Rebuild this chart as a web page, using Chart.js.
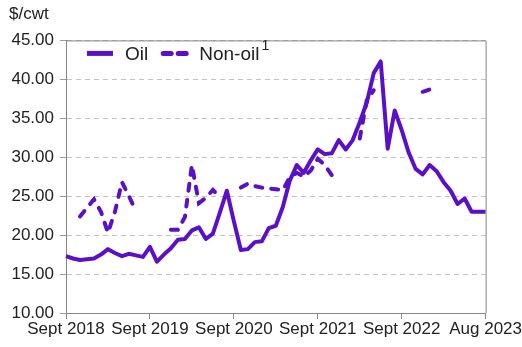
<!DOCTYPE html>
<html>
<head>
<meta charset="utf-8">
<script src="https://cdn.jsdelivr.net/npm/chart.js@4"></script>
<style>
  html, body { margin: 0; padding: 0; background: #fff; }
  #wrap { width: 522px; height: 347px; }
</style>
</head>
<body>
<div id="wrap"><canvas id="chart1"></canvas></div>
<script>
// monthly, Sept 2018 .. end of series
const monthNames = ['Sept', 'Oct', 'Nov', 'Dec', 'Jan', 'Feb', 'Mar', 'Apr', 'May', 'June', 'July', 'Aug'];
const months = [];
for (let i = 0; i < 61; i++) {
    months.push(monthNames[i % 12] + ' ' + (2018 + Math.floor((i + 8) / 12)));
}

const tickLabels = ['Sept 2018', 'Sept 2019', 'Sept 2020', 'Sept 2021', 'Sept 2022', 'Aug 2023'];
const tickAt = [0, 12, 24, 36, 48, 60];

const oil = [
    17.3, 17.0, 16.8, 16.9, 17.0, 17.5, 18.2, 17.7, 17.3, 17.6, 17.4, 17.2,
    18.5, 16.6, 17.5, 18.3, 19.4, 19.5, 20.6, 21.0, 19.5, 20.2, 22.9, 25.7,
    21.8, 18.1, 18.2, 19.1, 19.2, 20.9, 21.2, 23.6, 27.0, 29.0, 28.0, 29.6,
    31.0, 30.4, 30.5, 32.2, 31.0, 32.2, 34.5, 37.0, 40.8, 42.3, 31.1, 36.0,
    33.5, 30.6, 28.5, 27.8, 29.0, 28.2, 26.8, 25.7, 24.0, 24.7, 23.0, 23.0,
    23.0
];

const nonOil = [
    null, null, 22.4, 23.5, 24.6, 23.0, 20.3, 23.0, 26.8, 25.0, 23.1, null,
    null, null, null, 20.7, 20.7, 22.3, 29.0, 24.1, 24.8, 25.8, 24.9, null,
    null, 26.1, 26.6, 26.3, 26.1, 26.0, 25.9, 25.8, 27.4, 28.0, 27.5, 28.3,
    29.8, 29.0, 27.7, null, null, null, 32.4, 37.3, 38.6, null, null, null,
    null, null, null, 38.4, 38.7, null, null, null, null, null, null, null,
    null
];

const purple = '#5a10c8';
const axisGrey = '#858585';

// top and right edge of the plot frame
const plotBox = {
    id: 'plotBox',
    afterDatasetsDraw(chart) {
        const a = chart.chartArea;
        const c = chart.ctx;
        c.save();
        c.strokeStyle = axisGrey;
        c.lineWidth = 1;
        c.beginPath();
        c.moveTo(a.left, a.top + 0.5);
        c.lineTo(a.right + 0.5, a.top + 0.5);
        c.lineTo(a.right + 0.5, a.bottom);
        c.stroke();
        c.restore();
    }
};

// one-row legend inside the plot, top left
const innerLegend = {
    id: 'innerLegend',
    afterDraw(chart) {
        const a = chart.chartArea;
        const c = chart.ctx;
        const y = a.top + 13;
        let x = a.left + 21;
        c.save();
        c.font = '19px "Liberation Sans", Arial, sans-serif';
        c.textBaseline = 'middle';
        c.fillStyle = '#222';
        chart.data.datasets.forEach((ds) => {
            c.strokeStyle = ds.borderColor;
            c.lineWidth = 5;
            c.lineCap = ds.borderDash ? 'round' : 'butt';
            c.setLineDash(ds.borderDash ? [8, 7] : []);
            c.beginPath();
            c.moveTo(x + (ds.borderDash ? 2 : 0), y);
            c.lineTo(x + 26, y);
            c.stroke();
            c.setLineDash([]);
            x += 38;
            const base = ds.label.replace('¹', '');
            c.fillText(base, x, y + 1);
            let w = c.measureText(base).width;
            if (base !== ds.label) {
                c.font = '14px "Liberation Sans", Arial, sans-serif';
                c.fillText('1', x + w + 2, y - 7);
                w += 12;
                c.font = '19px "Liberation Sans", Arial, sans-serif';
            }
            x += w + 13;
        });
        c.restore();
    }
};

Chart.defaults.font.family = '"Liberation Sans", Arial, sans-serif';
Chart.defaults.font.size = 17;
Chart.defaults.color = '#222';

const ctx1 = document.getElementById('chart1');

const myChart1 = new Chart(ctx1, {
    type: 'line',
    data: {
        labels: months,
        datasets: [{
            label: 'Oil',
            data: oil,
            borderColor: purple,
            backgroundColor: purple,
            borderWidth: 4,
            borderJoinStyle: 'round',
            pointRadius: 0,
            tension: 0
        }, {
            label: 'Non-oil¹',
            data: nonOil,
            borderColor: purple,
            backgroundColor: purple,
            borderWidth: 4,
            borderDash: [7, 9],
            borderCapStyle: 'round',
            pointRadius: 0,
            tension: 0,
            spanGaps: false
        }]
    },
    options: {
        responsive: true,
        maintainAspectRatio: false,
        animation: false,
        layout: {
            padding: { left: 9, right: 0, top: 0, bottom: 0 }
        },
        plugins: {
            title: {
                display: true,
                text: '$/cwt',
                align: 'start',
                color: '#222',
                font: { size: 17, weight: 'normal' },
                padding: { top: 4, bottom: 16 }
            },
            legend: { display: false },
            tooltip: { enabled: false }
        },
        scales: {
            x: {
                offset: false,
                afterFit(scale) { scale.height = 34; },
                grid: {
                    display: true,
                    drawOnChartArea: false,
                    drawTicks: true,
                    tickLength: 6,
                    color: (c) => tickAt.includes(c.index) ? axisGrey : 'rgba(0,0,0,0)'
                },
                border: { color: axisGrey, width: 1 },
                ticks: {
                    autoSkip: false,
                    maxRotation: 0,
                    padding: 0,
                    callback: (v, i) => {
                        const k = tickAt.indexOf(i);
                        return k >= 0 ? tickLabels[k] : '';
                    }
                }
            },
            y: {
                min: 10,
                max: 45,
                afterFit(scale) { scale.width = 57; },
                grid: {
                    color: '#c4c4c4',
                    tickColor: '#9a9a9a',
                    tickLength: 6
                },
                border: { color: axisGrey, width: 1, dash: [5, 4] },
                ticks: {
                    stepSize: 5,
                    padding: 6,
                    callback: (v) => v.toFixed(2)
                }
            }
        }
    },
    plugins: [plotBox, innerLegend]
});
</script>
</body>
</html>
